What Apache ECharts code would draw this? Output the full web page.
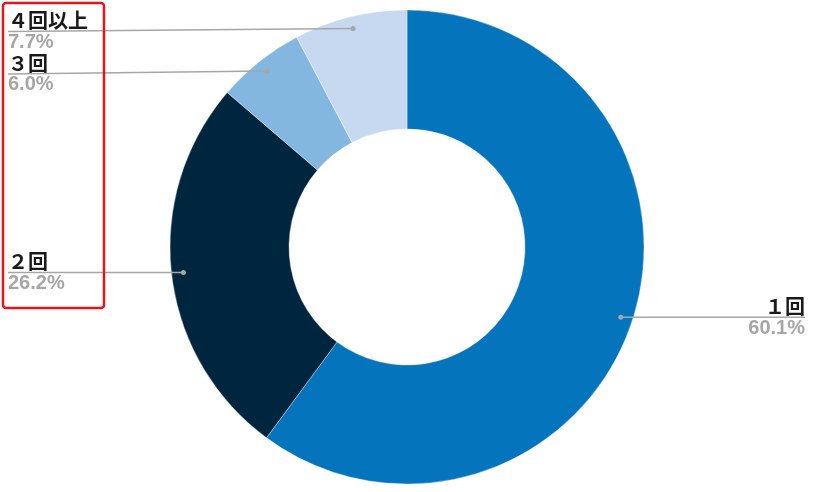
<!DOCTYPE html>
<html>
<head>
<meta charset="utf-8">
<script src="https://cdn.jsdelivr.net/npm/echarts@6/dist/echarts.min.js"></script>
<style>
html,body{margin:0;padding:0;background:#fff;}
#chart{width:823px;height:492px;}
</style>
</head>
<body>
<div id="chart"></div>
<script>
// ---- data ----
const categories = ['１回', '２回', '３回', '４回以上'];
const shares = [60.1, 26.2, 6.0, 7.7];

// ---- style ----
const palette = ['#0474BC', '#00253F', '#83B7E0', '#C6D9F1'];
const CX = 407, CY = 247, R_OUT = 237, R_IN = 118, DOT_R = 225;
const LEFT_X = 8, RIGHT_X = 805;
const labelDy = [0, 0, 3, 3];

const total = shares.reduce((a, b) => a + b, 0);
let acc = 0;
const dotData = shares.map(v => {
  const mid = acc + v / 2;
  acc += v;
  return [DOT_R, mid / total * 100];
});

function dotPixel(i) {
  const th = dotData[i][1] / 100 * Math.PI * 2;
  return [CX + DOT_R * Math.sin(th), CY - DOT_R * Math.cos(th)];
}

const chart = echarts.init(document.getElementById('chart'));
chart.setOption({
  animation: false,
  polar: { center: [CX, CY], radius: R_OUT },
  angleAxis: { type: 'value', min: 0, max: 100, startAngle: 90, clockwise: true, show: false },
  radiusAxis: { type: 'value', min: 0, max: R_OUT, show: false },
  graphic: [{
    type: 'rect',
    shape: { x: 3, y: 3, width: 101, height: 305, r: 3 },
    style: { fill: 'none', stroke: '#E8141C', lineWidth: 2.5 },
    z: 100
  }],
  series: [{
    type: 'pie',
    center: [CX, CY],
    radius: [R_IN, R_OUT],
    startAngle: 90,
    clockwise: true,
    data: categories.map((c, i) => ({ name: c, value: shares[i], itemStyle: { color: palette[i] } })),
    itemStyle: { borderColor: 'rgba(255,255,255,0.6)', borderWidth: 0.6 },
    emphasis: { disabled: true },
    label: {
      show: true,
      position: 'outside',
      formatter: p => '{n|' + p.name + '}\n{p|' + p.value.toFixed(1) + '%}',
      rich: {
        n: { fontFamily: 'Noto Sans CJK JP', fontWeight: 'bold', fontSize: 20, color: '#1a1a1a', lineHeight: 22 },
        p: { fontFamily: 'Liberation Sans', fontWeight: 'bold', fontSize: 20, color: '#A6A6A6', lineHeight: 22 }
      }
    },
    labelLine: { show: false },
    labelLayout: function (params) {
      const i = params.dataIndex;
      const d = dotPixel(i);
      const left = d[0] < CX;
      return {
        x: left ? LEFT_X : RIGHT_X,
        y: d[1] + labelDy[i],
        align: left ? 'left' : 'right',
        verticalAlign: 'middle'
      };
    }
  }, {
    type: 'custom',
    coordinateSystem: 'polar',
    data: dotData,
    silent: true,
    z: 10,
    renderItem: function (params, api) {
      const i = params.dataIndex;
      const p = api.coord([api.value(0), api.value(1)]);
      const left = p[0] < CX;
      const farX = left ? LEFT_X : RIGHT_X;
      return {
        type: 'group',
        children: [{
          type: 'line',
          shape: { x1: p[0], y1: p[1], x2: farX, y2: p[1] + labelDy[i] },
          style: { stroke: '#A6A6A6', lineWidth: 1.5 }
        }, {
          type: 'circle',
          shape: { cx: p[0], cy: p[1], r: 2.5 },
          style: { fill: '#A6A6A6' }
        }]
      };
    }
  }]
});
</script>
</body>
</html>
